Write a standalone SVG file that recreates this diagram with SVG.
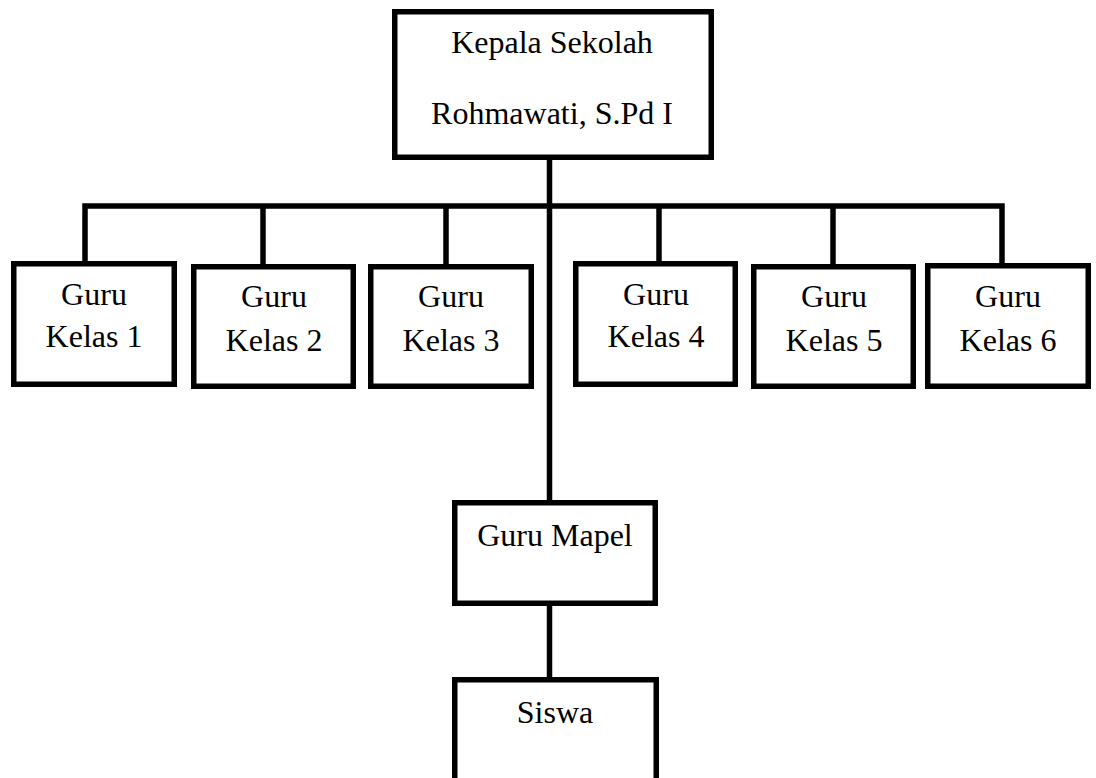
<svg xmlns="http://www.w3.org/2000/svg" width="1096" height="778" viewBox="0 0 1096 778">
<style>
.box{fill:#fff;stroke:#000;stroke-width:5.5}
.lbl{font-family:"Liberation Serif","Times New Roman",serif;font-size:32px;fill:#000;text-anchor:middle}
.con{fill:none;stroke:#000;stroke-width:5.5;stroke-linejoin:miter}
</style>
<rect width="1096" height="778" fill="#fff"/>
<g id="connectors">
<path class="con" d="M549.5,157 V500"/>
<path class="con" d="M85,261 V206 H1002 V263"/>
<path class="con" d="M263,206 V264"/>
<path class="con" d="M446,206 V264"/>
<path class="con" d="M659,206 V261"/>
<path class="con" d="M833,206 V264"/>
<path class="con" d="M549.5,606 V677"/>
</g>
<g id="kepala">
<rect class="box" x="394.75" y="11.75" width="316.5" height="145.5"/>
<text class="lbl" x="552" y="53">Kepala Sekolah</text>
<text class="lbl" x="552" y="124">Rohmawati, S.Pd I</text>
</g>
<g id="guru1">
<rect class="box" x="13.75" y="263.75" width="160.5" height="120.5"/>
<text class="lbl" x="94" y="305">Guru</text>
<text class="lbl" x="94" y="347">Kelas 1</text>
</g>
<g id="guru2">
<rect class="box" x="193.75" y="266.75" width="159.5" height="119.5"/>
<text class="lbl" x="274" y="307">Guru</text>
<text class="lbl" x="274" y="351">Kelas 2</text>
</g>
<g id="guru3">
<rect class="box" x="370.75" y="266.75" width="160.5" height="119.5"/>
<text class="lbl" x="451" y="307">Guru</text>
<text class="lbl" x="451" y="351">Kelas 3</text>
</g>
<g id="guru4">
<rect class="box" x="575.75" y="263.75" width="159.5" height="120.5"/>
<text class="lbl" x="656" y="305">Guru</text>
<text class="lbl" x="656" y="347">Kelas 4</text>
</g>
<g id="guru5">
<rect class="box" x="753.75" y="266.75" width="159.5" height="119.5"/>
<text class="lbl" x="834" y="307">Guru</text>
<text class="lbl" x="834" y="351">Kelas 5</text>
</g>
<g id="guru6">
<rect class="box" x="927.75" y="265.75" width="160.5" height="120.5"/>
<text class="lbl" x="1008" y="307">Guru</text>
<text class="lbl" x="1008" y="351">Kelas 6</text>
</g>
<g id="mapel">
<rect class="box" x="454.75" y="502.75" width="200.5" height="100.5"/>
<text class="lbl" x="555" y="546">Guru Mapel</text>
</g>
<g id="siswa">
<rect class="box" x="454.75" y="679.75" width="201.5" height="130"/>
<text class="lbl" x="555" y="723">Siswa</text>
</g>
</svg>
